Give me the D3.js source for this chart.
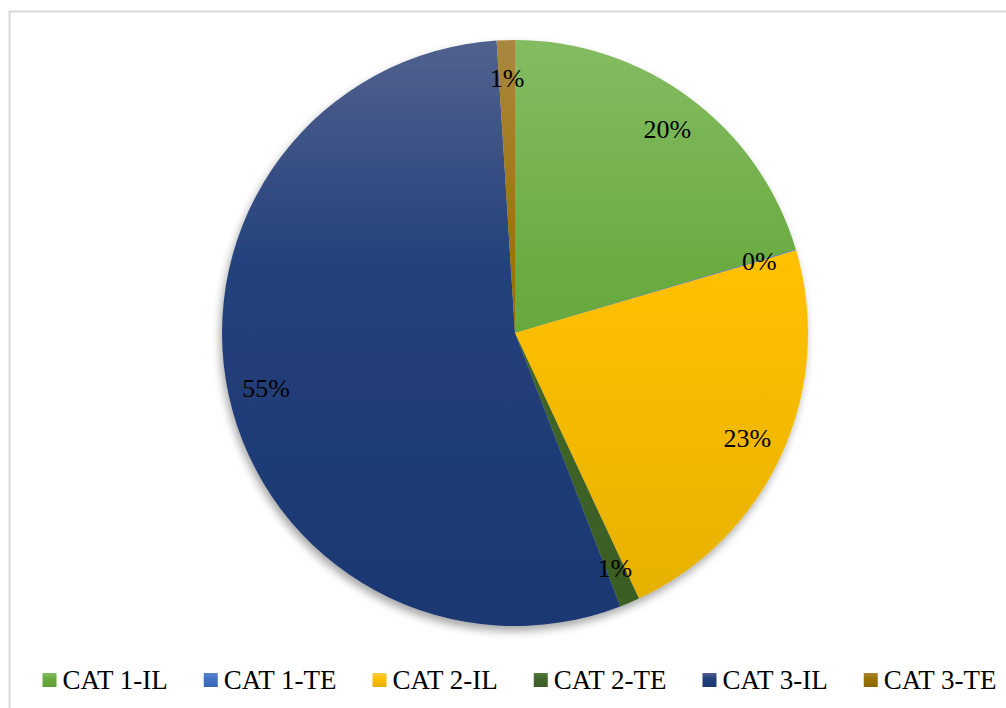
<!DOCTYPE html>
<html lang="en">
<head>
    <meta charset="utf-8" />
    <title>Pie</title>
    <script src="https://cdn.jsdelivr.net/npm/d3@7"></script>
    <style type="text/css">
        body { margin: 0; background: #fff; }
        text { font-family: "Liberation Serif", "Times New Roman", Times, serif; fill: #000; }
    </style>
</head>
<body>
    <svg id="canvas" width="1006" height="708" xmlns="http://www.w3.org/2000/svg"></svg>
    <script type="text/javascript">
        var categories = ["CAT 1-IL", "CAT 1-TE", "CAT 2-IL", "CAT 2-TE", "CAT 3-IL", "CAT 3-TE"];
        var values = [20.4, 0.05, 22.6, 1.1, 54.85, 1.0];
        var baseColors = ["#6aab40", "#4472c4", "#ffc000", "#43682b", "#22407a", "#997300"];
        var topColors = ["#84bc62", "#5a84cc", "#ffcb48", "#547a3c", "#51618e", "#aa8740"];
        var bottomColors = ["#5f9e33", "#3a66b6", "#e4b000", "#3a5d23", "#1c3872", "#8a6600"];

        var svg = d3.select("#canvas");
        var cx = 515, cy = 333, r = 293;

        // рамка диаграммы
        svg.append("path")
            .attr("d", "M1006,11.5H9.5V708")
            .attr("fill", "none")
            .attr("stroke", "#d9d9d9")
            .attr("stroke-width", 2);

        var defs = svg.append("defs");
        var shadow = defs.append("filter").attr("id", "shadow")
            .attr("x", "-10%").attr("y", "-10%").attr("width", "120%").attr("height", "120%");
        shadow.append("feDropShadow")
            .attr("dx", -2).attr("dy", 5).attr("stdDeviation", 4)
            .attr("flood-color", "#000").attr("flood-opacity", 0.35);

        function addGradient(id, i, user) {
            var g = defs.append("linearGradient").attr("id", id)
                .attr("x1", 0).attr("x2", 0);
            if (user) {
                // координаты внутри группы с центром круга в (0,0)
                g.attr("gradientUnits", "userSpaceOnUse").attr("y1", -r).attr("y2", r);
            } else {
                g.attr("y1", 0).attr("y2", 1);
            }
            g.append("stop").attr("offset", "0%").attr("stop-color", topColors[i]);
            g.append("stop").attr("offset", "40%").attr("stop-color", baseColors[i]);
            g.append("stop").attr("offset", "100%").attr("stop-color", bottomColors[i]);
        }
        categories.forEach(function (c, i) {
            addGradient("grad" + i, i, true);
            addGradient("lgrad" + i, i, false);
        });

        var total = d3.sum(values);
        var pie = d3.pie().sort(null).value(function (d) { return d; });
        var arcs = pie(values);
        var arc = d3.arc().innerRadius(0).outerRadius(r);
        var labelArc = d3.arc().innerRadius(r * 0.87).outerRadius(r * 0.87);

        var g = svg.append("g").attr("transform", "translate(" + cx + "," + cy + ")");
        g.append("g").attr("filter", "url(#shadow)")
            .selectAll("path").data(arcs)
            .enter().append("path")
                .attr("d", arc)
                .attr("fill", function (d, i) { return "url(#grad" + i + ")"; });

        var fmt = d3.format(".0%");
        g.selectAll("text.lbl").data(arcs)
            .enter().append("text")
                .attr("class", "lbl")
                .attr("transform", function (d) { return "translate(" + labelArc.centroid(d) + ")"; })
                .attr("text-anchor", "middle")
                .attr("dy", "0.35em")
                .style("font-size", "26px")
                .text(function (d) { return fmt(d.value / total); });

        // легенда: ширина элементов по тексту, всё по центру
        var legend = svg.append("g");
        var items = legend.selectAll("g").data(categories)
            .enter().append("g");
        items.append("rect")
            .attr("y", -7)
            .attr("width", 14).attr("height", 14)
            .attr("fill", function (d, i) { return "url(#lgrad" + i + ")"; });
        items.append("text")
            .attr("x", 20).attr("dy", "0.35em")
            .style("font-size", "27px")
            .text(function (d) { return d; });
        var x = 0, gap = 36;
        items.each(function () {
            var w = 20 + d3.select(this).select("text").node().getComputedTextLength();
            d3.select(this).attr("transform", "translate(" + x + ",0)");
            x += w + gap;
        });
        var legendW = x - gap;
        legend.attr("transform", "translate(" + (519.5 - legendW / 2) + ",680)");
    </script>
</body>
</html>
